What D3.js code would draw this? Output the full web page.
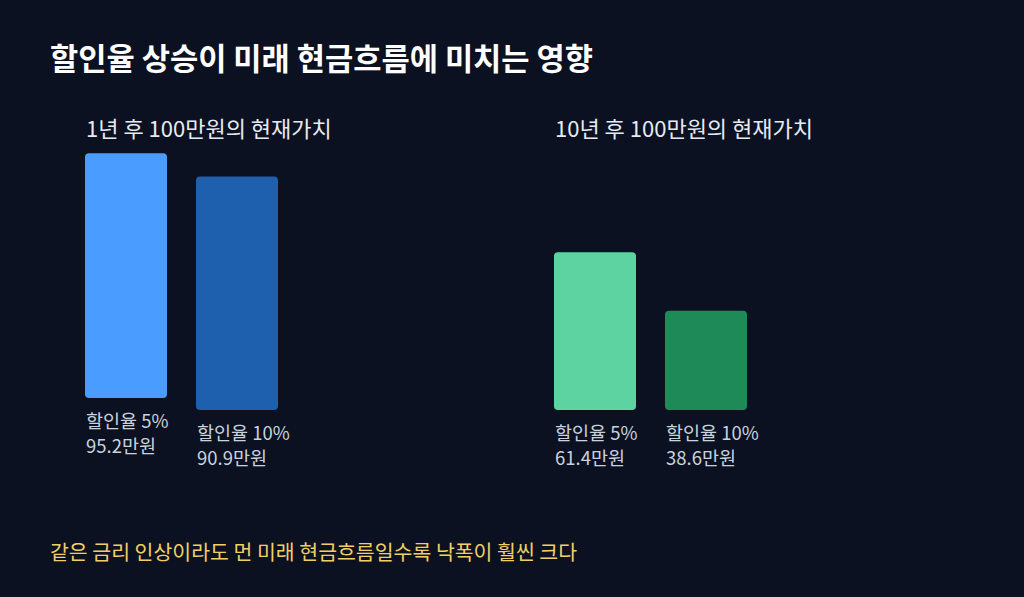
<!DOCTYPE html>
<html><head><meta charset="utf-8">
<script src="https://cdn.jsdelivr.net/npm/d3@7"></script>
<style>
html,body{margin:0;padding:0;background:#0b1120;}
svg{display:block;}
text{font-family:"Noto Sans CJK KR","Noto Sans",sans-serif;}
</style></head><body>
<script>
const title = "할인율 상승이 미래 현금흐름에 미치는 영향";
const panels = ["1년 후 100만원의 현재가치", "10년 후 100만원의 현재가치"];
const rates = ["할인율 5%", "할인율 10%"];
const values1 = [95.2, 90.9];
const values10 = [61.4, 38.6];
const colors1 = ["#4a9dff", "#1e5fae"];
const colors10 = ["#5cd3a1", "#1e8a58"];
const note = "같은 금리 인상이라도 먼 미래 현금흐름일수록 낙폭이 훨씬 크다";

const W = 1024, H = 597;
const svg = d3.select("body").append("svg").attr("width", W).attr("height", H);
svg.append("rect").attr("width", W).attr("height", H).attr("fill", "#0b1120");

svg.append("text").attr("x", 50).attr("y", 70).attr("fill", "#ffffff")
  .attr("font-size", 30.7).attr("font-weight", 700).text(title);

const baseline = 410;
const y = d3.scaleLinear().domain([0, 100]).range([baseline, baseline - 257]);

const panelData = [
  {title: panels[0], values: values1, colors: colors1, x0: 85},
  {title: panels[1], values: values10, colors: colors10, x0: 554}
];
const x = d3.scaleBand().domain(rates).range([0, 193]).paddingInner(0.261).paddingOuter(0);

panelData.forEach((p, pi) => {
  const g = svg.append("g").attr("transform", `translate(${p.x0},0)`);
  g.append("text").attr("x", 1).attr("y", 137).attr("fill", "#e6ebf2")
    .attr("font-size", 22).text(p.title);
  rates.forEach((r, i) => {
    const lift = (pi === 0 && i === 0) ? 12 : 0;
    const v = p.values[i];
    const bg = g.append("g").attr("transform", `translate(0,${-lift})`);
    bg.append("rect").attr("x", x(r)).attr("width", x.bandwidth())
      .attr("y", y(v)).attr("height", baseline - y(v))
      .attr("rx", 4).attr("fill", p.colors[i]);
    bg.append("text").attr("x", x(r) + 1).attr("y", baseline + 30)
      .attr("fill", "#c9d3df").attr("font-size", 18.5).text(r);
    bg.append("text").attr("x", x(r) + 1).attr("y", baseline + 55)
      .attr("fill", "#c9d3df").attr("font-size", 18.5).text(v.toFixed(1) + "만원");
  });
});

svg.append("text").attr("x", 50).attr("y", 560).attr("fill", "#f2cf66")
  .attr("font-size", 20.5).text(note);
</script>
</body></html>
